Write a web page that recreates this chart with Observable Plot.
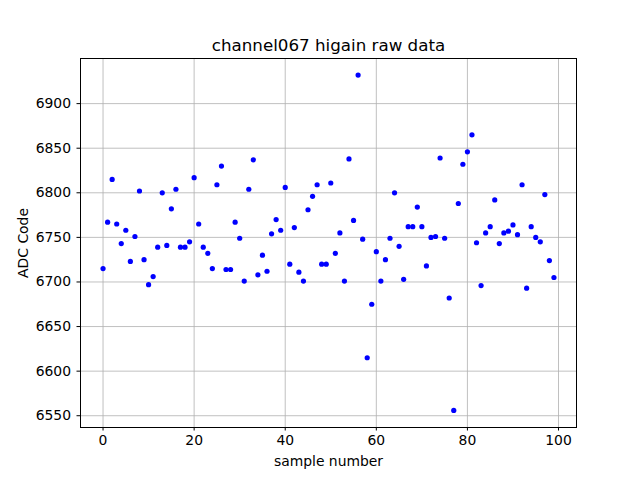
<!DOCTYPE html>
<html>
<head>
<meta charset="utf-8">
<script src="https://cdn.jsdelivr.net/npm/d3@7"></script>
<script src="https://cdn.jsdelivr.net/npm/@observablehq/plot@0.6"></script>
<style>
  html, body { margin: 0; padding: 0; background: #fff; }
  svg { font-family: "DejaVu Sans", sans-serif; }
</style>
</head>
<body>
<div id="chart"></div>
<script>
const title = "channel067 higain raw data";
const xLabel = "sample number";
const yLabel = "ADC Code";
const adcValues = [
  6715, 6767, 6815, 6765, 6743, 6758, 6723, 6751, 6802, 6725,
  6697, 6706, 6739, 6800, 6741, 6782, 6804, 6739, 6739, 6745,
  6817, 6765, 6739, 6732, 6715, 6809, 6830, 6714, 6714, 6767,
  6749, 6701, 6804, 6837, 6708, 6730, 6712, 6754, 6770, 6758,
  6806, 6720, 6761, 6711, 6701, 6781, 6796, 6809, 6720, 6720,
  6811, 6732, 6755, 6701, 6838, 6769, 6932, 6748, 6615, 6675,
  6734, 6701, 6725, 6749, 6800, 6740, 6703, 6762, 6762, 6784,
  6762, 6718, 6750, 6751, 6839, 6749, 6682, 6556, 6788, 6832,
  6846, 6865, 6744, 6696, 6755, 6762, 6792, 6743, 6755, 6757,
  6764, 6753, 6809, 6693, 6762, 6750, 6745, 6798, 6724, 6705
];
const xTicks = [0, 20, 40, 60, 80, 100];
const yTicks = [6550, 6600, 6650, 6700, 6750, 6800, 6850, 6900];

const data = adcValues.map((v, i) => ({sample: i, adc: v}));

const chart = Plot.plot({
  width: 640,
  height: 480,
  marginLeft: 80,
  marginRight: 64,
  marginTop: 58,
  marginBottom: 53,
  style: {fontFamily: "DejaVu Sans, sans-serif", background: "#fff"},
  x: {domain: [-4.95, 103.95]},
  y: {domain: [6536.8, 6950.6]},
  marks: [
    Plot.gridX(xTicks, {stroke: "#b0b0b0", strokeOpacity: 1, strokeWidth: 0.8}),
    Plot.gridY(yTicks, {stroke: "#b0b0b0", strokeOpacity: 1, strokeWidth: 0.8}),
    Plot.dot(data, {x: "sample", y: "adc", r: 2.6, fill: "#0000ff", stroke: "none"}),
    Plot.frame({stroke: "#000", strokeWidth: 1}),
    Plot.axisX({ticks: xTicks, tickSize: 3.5, tickPadding: 4, fontSize: 13.9, color: "#000",
      label: xLabel, labelAnchor: "center", labelOffset: 38, labelArrow: "none"}),
    Plot.axisY({ticks: yTicks, tickFormat: d3.format("d"), tickSize: 3.5, tickPadding: 6, fontSize: 13.9, color: "#000",
      label: yLabel, labelAnchor: "center", labelOffset: 62, labelArrow: "none"}),
    Plot.text([title], {frameAnchor: "top", dy: -19, fontSize: 16.7, fill: "#000", textAnchor: "middle"})
  ]
});
document.getElementById("chart").appendChild(chart);
</script>
</body>
</html>
